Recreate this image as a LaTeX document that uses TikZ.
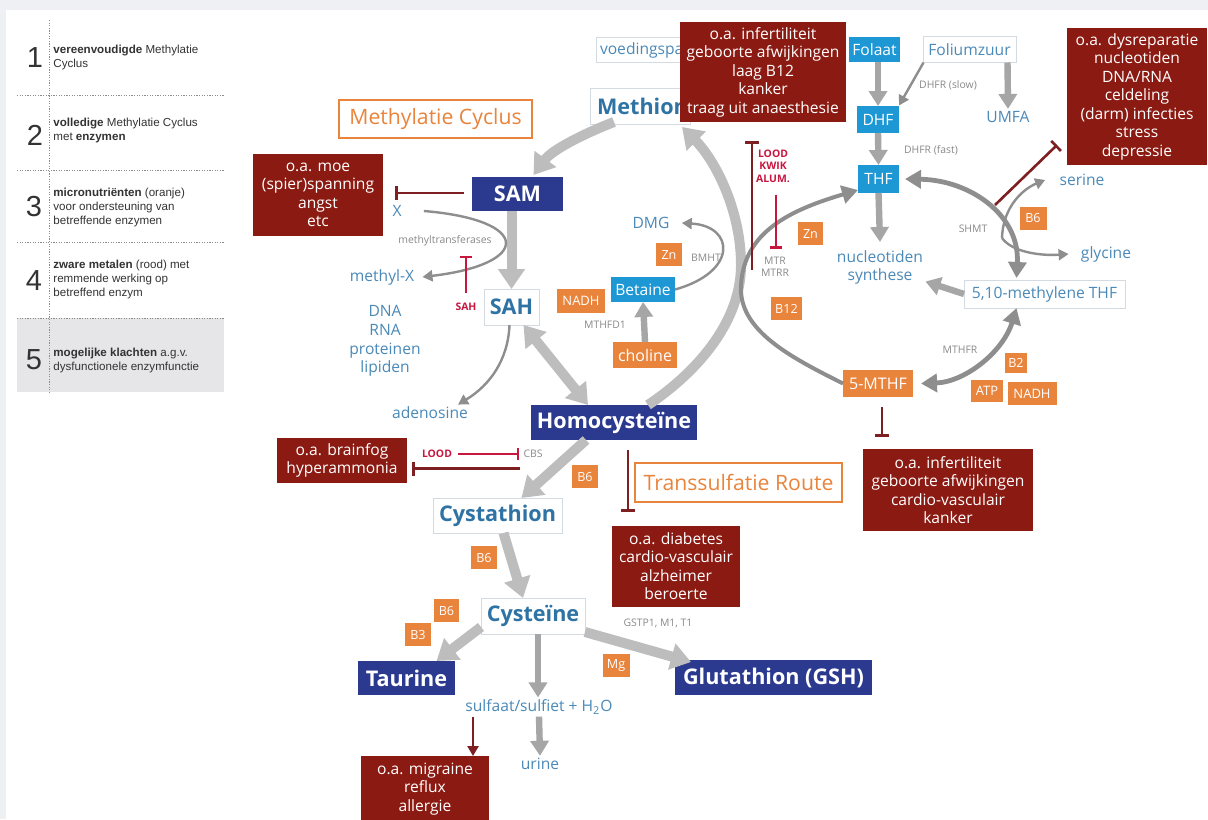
\documentclass[tikz,border=0pt]{standalone}
\usepackage{fontspec}
\setmainfont{Open Sans}
\newfontfamily\legendfont{Liberation Sans}
\usetikzlibrary{arrows.meta}

\definecolor{bgcol}{HTML}{EEF0F4}
\definecolor{dkred}{HTML}{8B1A12}
\definecolor{navy}{HTML}{2B3A8F}
\definecolor{cyanbox}{HTML}{1E98D5}
\definecolor{orng}{HTML}{E9843C}
\definecolor{tblue}{HTML}{4A89B8}
\definecolor{hblue}{HTML}{2F73A5}
\definecolor{boxline}{HTML}{D3DAE2}
\definecolor{enzgray}{HTML}{8A8A8A}
\definecolor{crim}{HTML}{C8173F}
\definecolor{maroon}{HTML}{7E1F22}
\definecolor{bigg}{HTML}{BDBDBD}
\definecolor{medg}{HTML}{A6A6A6}
\definecolor{thing}{HTML}{8E8E8E}
\definecolor{legtext}{HTML}{333333}
\definecolor{legshade}{HTML}{E6E6E9}
\definecolor{legline}{HTML}{8C8C8C}

\newcommand\fsz[2]{\fontsize{#1}{#2}\selectfont}

\tikzset{
  base/.style={inner sep=0pt, outer sep=0pt, align=center},
  redbox/.style={base, fill=dkred, text=white, font=\fsz{7.8}{9.25}},
  navybox/.style={base, fill=navy, text=white, font=\bfseries\fsz{10.8}{12}},
  whitebold/.style={base, draw=boxline, line width=0.5pt, fill=white, text=hblue, font=\bfseries\fsz{10.8}{12}},
  whitebox/.style={base, draw=boxline, line width=0.5pt, fill=white, text=tblue, font=\fsz{7.8}{9}},
  bluebox/.style={base, fill=cyanbox, text=white, font=\fsz{7.8}{9}},
  orbox/.style={base, fill=orng, text=white, font=\fsz{6.3}{7}},
  titlebox/.style={base, draw=orng, line width=0.9pt, fill=white, text=orng, font=\fsz{10.6}{12}},
  lbl/.style={inner sep=1pt, text=tblue, align=center, font=\fsz{7.8}{9.3}},
  enz/.style={inner sep=1pt, text=enzgray, align=center, font=\fsz{5.2}{6.2}},
  metal/.style={inner sep=1pt, text=crim, align=center, font=\bfseries\fsz{5.2}{6.3}},
  legtxt/.style={inner sep=0pt, anchor=west, align=left, text=legtext, font=\legendfont\fsz{5.8}{7}},
  legnum/.style={inner sep=0pt, text=legtext, font=\legendfont\fsz{14.5}{15}},
  legdot/.style={draw=legline, line width=0.45pt, dash pattern=on 0.6pt off 0.7pt},
  bigarrow/.style={draw=bigg, line width=5pt, -{Triangle[width=13pt,length=10pt]}},
  bigdouble/.style={draw=bigg, line width=5pt, {Triangle[width=13pt,length=10pt]}-{Triangle[width=13pt,length=10pt]}},
  medarrow/.style={draw=medg, line width=3.2pt, -{Triangle[width=9pt,length=7.5pt]}},
  midarc/.style={draw=thing, line width=2pt, -{Triangle[width=9pt,length=8pt]}},
  middouble/.style={draw=thing, line width=2.4pt, {Triangle[width=9pt,length=8pt]}-{Triangle[width=9pt,length=8pt]}},
  thinarrow/.style={draw=thing, line width=1.2pt, -{Triangle[width=5.5pt,length=5pt]}},
  maroonarrow/.style={draw=maroon, line width=1.3pt, -{Triangle[width=5.5pt,length=5pt]}},
  maroonT/.style={draw=maroon, line width=1.3pt, -{Bar[width=7pt]}},
  crimT/.style={draw=crim, line width=1.1pt, -{Bar[width=6pt]}},
}

\begin{document}
\begin{tikzpicture}[x=0.5pt,y=-0.5pt]
\useasboundingbox (0,0) rectangle (1208,819);
\fill[bgcol] (0,0) rectangle (1208,819);
\fill[white] (6,10) rectangle (1208,819);

% ---------- legend ----------
\fill[legshade] (17,318) rectangle (224,392);
\draw[legdot] (49,20) -- (49,392);
\foreach \yy in {95,170,242,318} \draw[legdot] (17,\yy) -- (224,\yy);
\node[legnum] (n1) at (35,58) {1};
\node[legnum] (n2) at (35,135) {2};
\node[legnum] (n3) at (34,207) {3};
\node[legnum] (n4) at (34,281) {4};
\node[legnum] (n5) at (34,360) {5};
\node[legtxt] (l1) at (53,57.5) {\textbf{vereenvoudigde} Methylatie\\Cyclus};
\node[legtxt] (l2) at (53,130) {\textbf{volledige} Methylatie Cyclus\\met \textbf{enzymen}};
\node[legtxt] (l3) at (53,207) {\textbf{micronutriënten} (oranje)\\voor ondersteuning van\\betreffende enzymen};
\node[legtxt] (l4) at (53,279) {\textbf{zware metalen} (rood) met\\remmende werking op\\betreffend enzym};
\node[legtxt] (l5) at (53,360) {\textbf{mogelijke klachten} a.g.v.\\dysfunctionele enzymfunctie};

% ---------- top: methionine and folate ----------
\node[whitebox, anchor=west, inner xsep=2pt, text width=43pt, align=left, minimum height=12.5pt] (voed) at (596,50) {voedingspa};
\node[whitebold, anchor=west, inner xsep=3.5pt, text width=43pt, align=left, minimum height=18pt] (meth) at (590,106) {Methion};
\node[redbox, minimum width=83pt, minimum height=50pt] (rInf1) at (763,72) {o.a. infertiliteit\\geboorte afwijkingen\\laag B12\\kanker\\traag uit anaesthesie};

\node[bluebox, minimum width=25.5pt, minimum height=12.5pt] (folaat) at (874.5,49.5) {Folaat};
\node[whitebox, minimum width=46.5pt, minimum height=13pt] (folium) at (969.5,49.5) {Foliumzuur};
\node[bluebox, minimum width=21pt, minimum height=13.5pt] (dhf) at (878,119.5) {DHF};
\node[bluebox, minimum width=20.5pt, minimum height=14pt] (thf) at (878.5,179) {THF};
\node[lbl] (umfa) at (1008,117) {UMFA};
\node[enz] (dhfrs) at (948,85) {DHFR (slow)};
\node[enz] (dhfrf) at (931,150) {DHFR (fast)};
\node[redbox, minimum width=70pt, minimum height=68.5pt] (rDys) at (1137,96.5) {o.a. dysreparatie\\nucleotiden\\DNA/RNA\\celdeling\\(darm) infecties\\stress\\depressie};
\node[lbl] (serine) at (1082,180) {serine};
\node[lbl] (glycine) at (1106,254) {glycine};
\node[orbox, minimum width=13.5pt, minimum height=11.5pt] (b6shmt) at (1033,218) {B6};
\node[enz] (shmt) at (973,229) {SHMT};
\node[lbl] (nucl) at (880,267.5) {nucleotiden\\synthese};
\node[whitebox, minimum width=80.5pt, minimum height=14pt] (m510) at (1044.5,294) {5,10-methylene THF};
\node[enz] (mthfr) at (960,350) {MTHFR};
\node[orbox, minimum width=11pt, minimum height=10pt] (b2) at (1016,363) {B2};
\node[orbox, minimum width=16pt, minimum height=11pt, font=\fsz{6.5}{7}] (atp) at (987,391) {ATP};
\node[orbox, minimum width=24.5pt, minimum height=11.5pt, font=\fsz{6.5}{7}] (nadhb) at (1032,393.5) {NADH};
\node[orbox, minimum width=35pt, minimum height=13.5pt, font=\fsz{8}{9}] (mthf5) at (878,383.5) {5-MTHF};
\node[redbox, minimum width=85pt, minimum height=41pt] (rInf2) at (948,490) {o.a. infertiliteit\\geboorte afwijkingen\\cardio-vasculair\\kanker};

% ---------- methylation cycle ----------
\node[titlebox, minimum width=96.5pt, minimum height=19pt] (mcyc) at (435.5,119) {Methylatie Cyclus};
\node[navybox, minimum width=45.5pt, minimum height=17pt] (sam) at (517.5,194) {SAM};
\node[redbox, minimum width=65pt, minimum height=41pt] (rMoe) at (318,195) {o.a. moe\\(spier)spanning\\angst\\etc};
\node[lbl] (xlbl) at (397,211) {X};
\node[enz] (mtlbl) at (445,241) {methyltransferases};
\node[lbl] (mx) at (382,277) {methyl-X};
\node[metal] (sahlbl) at (466,307) {SAH};
\node[whitebold, minimum width=27.5pt, minimum height=18pt] (sah) at (511.5,307) {SAH};
\node[lbl] (dna) at (385,341) {DNA\\RNA\\proteinen\\lipiden};
\node[lbl] (adeno) at (430,413) {adenosine};

\node[lbl] (dmg) at (651,223) {DMG};
\node[orbox, minimum width=13pt, minimum height=11.5pt] (zn1) at (669,254.5) {Zn};
\node[enz] (bmht) at (706,258) {BMHT};
\node[bluebox, minimum width=32pt, minimum height=12.5pt] (bet) at (643,289.5) {Betaine};
\node[orbox, minimum width=24pt, minimum height=12pt, font=\fsz{6.5}{7}] (nadha) at (581,301) {NADH};
\node[enz] (mthfd) at (605,325) {MTHFD1};
\node[orbox, minimum width=32pt, minimum height=13pt, font=\fsz{8}{9}] (chol) at (645,355) {choline};

\node[metal] (metals) at (773,166) {LOOD\\KWIK\\ALUM.};
\node[enz] (mtr) at (775,267) {MTR\\MTRR};
\node[orbox, minimum width=12.5pt, minimum height=11.5pt] (zn2) at (810.5,233.5) {Zn};
\node[orbox, minimum width=15.5pt, minimum height=11.5pt] (b12) at (786.5,308.5) {B12};

\node[navybox, minimum width=83pt, minimum height=17.5pt] (hcy) at (614,422.5) {Homocysteïne};

% ---------- transsulfuration ----------
\node[redbox, minimum width=65pt, minimum height=22.5pt] (rBrain) at (342,460.5) {o.a. brainfog\\hyperammonia};
\node[metal] (lood) at (437,454) {LOOD};
\node[enz] (cbs) at (533,454) {CBS};
\node[orbox, minimum width=13pt, minimum height=11.5pt] (b6a) at (585,476.5) {B6};
\node[titlebox, minimum width=103.5pt, minimum height=19.5pt] (troute) at (738.5,482.5) {Transsulfatie Route};
\node[redbox, minimum width=64pt, minimum height=40.5pt] (rDiab) at (676,566) {o.a. diabetes\\cardio-vasculair\\alzheimer\\beroerte};
\node[whitebold, minimum width=64.5pt, minimum height=17.5pt] (cysta) at (497.5,515.5) {Cystathion};
\node[orbox, minimum width=13pt, minimum height=11.5pt] (b6b) at (484,557.5) {B6};
\node[whitebold, minimum width=52pt, minimum height=18pt] (cys) at (533,616) {Cysteïne};
\node[orbox, minimum width=12.5pt, minimum height=11.5pt] (b6c) at (446.5,610.5) {B6};
\node[orbox, minimum width=13pt, minimum height=11.5pt] (b3) at (418,634.5) {B3};
\node[enz] (gstp) at (658,623) {GSTP1, M1, T1};
\node[orbox, minimum width=13.5pt, minimum height=11.5pt] (mg) at (616,665.5) {Mg};
\node[navybox, minimum width=48.5pt, minimum height=17pt] (taur) at (406.5,678) {Taurine};
\node[navybox, minimum width=98.5pt, minimum height=17.5pt] (gsh) at (773.5,677.5) {Glutathion (GSH)};
\node[lbl] (sulf) at (539,707) {sulfaat/sulfiet + H\textsubscript{2}O};
\node[lbl] (urine) at (540,764) {urine};
\node[redbox, minimum width=64pt, minimum height=33pt] (rMig) at (425,789) {o.a. migraine\\reflux\\allergie};

% ---------- main flow arrows ----------
\draw[bigarrow] ([xshift=12pt,yshift=1pt]meth.south west) .. controls (583,134) and (552,150) .. ([xshift=8pt,yshift=1pt]sam.north);
\draw[bigarrow] ([xshift=-3pt]sam.south) -- (sah.north);
\draw[bigdouble] ([xshift=6pt]sah.south) -- ([xshift=-13pt]hcy.north);
\draw[bigarrow] ([xshift=17pt]hcy.north) .. controls (700,370) and (741,320) .. (741,265) .. controls (741,210) and (715,160) .. ([xshift=-4pt,yshift=-1.5pt]meth.south east);
\draw[bigarrow] ([xshift=-14pt]hcy.south) -- ([xshift=12pt]cysta.north);
\draw[bigarrow] ([xshift=3pt]cysta.south) -- ([xshift=-5pt]cys.north);
\draw[bigarrow] ([yshift=-5.5pt]cys.west) -- ([xshift=15pt]taur.north);
\draw[bigarrow] ([yshift=-8pt]cys.east) -- ([xshift=8pt,yshift=-1pt]gsh.north west);
\draw[medarrow] ([xshift=2.5pt]cys.south) -- ([xshift=-0.5pt]sulf.north);
\draw[medarrow] (sulf.south) -- (urine.north);
\draw[maroonarrow] ([xshift=-33pt]sulf.south) -- ([xshift=24pt]rMig.north);
\draw[medarrow] (chol.north) -- (bet.south);

% folate side
\draw[medarrow] ([xshift=1.75pt]folaat.south) -- (dhf.north);
\draw[medarrow] (dhf.south) -- (thf.north);
\draw[medarrow] (thf.south) -- ([yshift=3pt]nucl.north);
\draw[medarrow] ([xshift=19pt]folium.south) -- (umfa.north);
\draw[medarrow] (m510.west) -- ([yshift=-7pt]nucl.east);
\draw[thinarrow] ([xshift=-23pt]folium.south) -- ([yshift=7pt]dhf.east);

% side reactions
\draw[thinarrow] ([xshift=10pt]xlbl.east) .. controls (532,220) and (532,264) .. ([xshift=3pt]mx.east);
\draw[thinarrow] ([xshift=-1pt]sah.south) .. controls (508,360) and (490,385) .. ([xshift=14pt]adeno.north);
\draw[thinarrow] (bet.east) .. controls (738,272) and (735,226) .. ([xshift=5pt]dmg.east);
\draw[midarc] (mthf5.west) .. controls (790,357) and (738,330) .. (741,285) .. controls (744,232) and (790,210) .. ([yshift=-5.5pt]thf.west);
\draw[middouble] ([xshift=3pt]thf.east) .. controls (970,180) and (1020,215) .. ([xshift=-14pt,yshift=1pt]m510.north);
\coordinate (shmtx) at (1002,238);
\draw[thinarrow] (shmtx) .. controls (1003,205) and (1025,188) .. ([xshift=-6pt]serine.west);
\draw[thinarrow] (shmtx) .. controls (1012,252) and (1040,256) .. ([xshift=-5pt]glycine.west);
\draw[middouble] ([xshift=4pt]mthf5.east) .. controls (965,382) and (1003,352) .. ([xshift=-14pt]m510.south);

% ---------- inhibitions ----------
\draw[maroonT] ([xshift=-4pt,yshift=0.5pt]sam.west) -- ([xshift=6pt,yshift=1pt]rMoe.east);
\coordinate (sahT) at (466,256);
\draw[crimT] ([yshift=4pt]sahlbl.north) -- (sahT);
\draw[crimT] ([xshift=2pt]lood.east) -- ([xshift=-1pt]cbs.west);
\coordinate (cbsT) at (520,468.5);
\draw[maroonT] (cbsT) -- ([xshift=2.5pt,yshift=-4pt]rBrain.east);
\draw[maroonT] ([xshift=7pt,yshift=-5pt]hcy.south) -- ([xshift=-24pt,yshift=7pt]rDiab.north);
\coordinate (lkaT) at (752,270);
\draw[maroonT] (lkaT) -- ([xshift=-5.5pt,yshift=-9.5pt]rInf1.south);
\draw[crimT] ([xshift=1.5pt,yshift=-5pt]metals.south) -- ([xshift=0.5pt,yshift=3pt]mtr.north);
\draw[maroonT] ([xshift=2pt,yshift=-5pt]mthf5.south) -- ([xshift=-33pt,yshift=6pt]rInf2.north);
\coordinate (dysT) at (995,205);
\draw[maroonT] (dysT) -- ([xshift=-5pt,yshift=10pt]rDys.south west);
\end{tikzpicture}
\end{document}
